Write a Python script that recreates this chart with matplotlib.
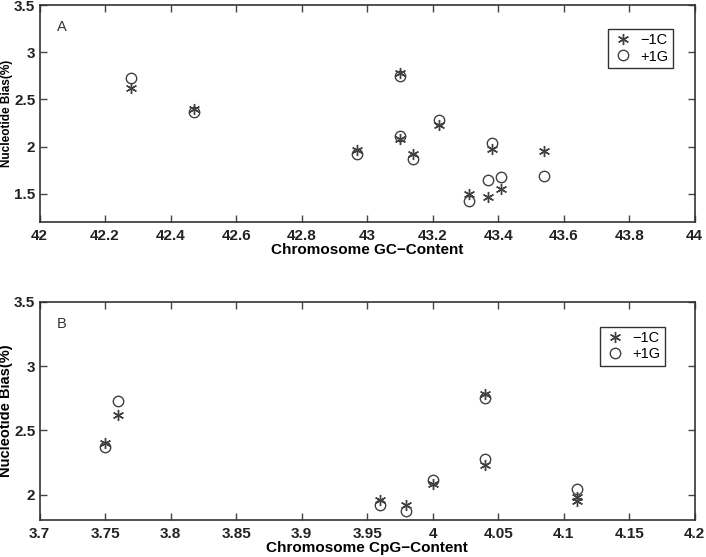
import matplotlib.pyplot as plt
from matplotlib.ticker import FormatStrFormatter, MultipleLocator

plt.rcParams['font.family'] = ['Liberation Sans', 'DejaVu Sans']

# panel A: chromosome GC content
gc = [42.28, 42.47, 42.97, 43.10, 43.10, 43.14, 43.22, 43.31, 43.37, 43.38, 43.41, 43.54]
gc_m1c = [2.62, 2.40, 1.96, 2.78, 2.08, 1.92, 2.23, 1.50, 1.47, 1.98, 1.55, 1.95]
gc_p1g = [2.73, 2.37, 1.92, 2.75, 2.11, 1.87, 2.28, 1.42, 1.65, 2.04, 1.68, 1.69]

# panel B: chromosome CpG content
cpg = [3.75, 3.76, 3.96, 3.98, 4.00, 4.04, 4.04, 4.11, 4.11]
cpg_m1c = [2.40, 2.62, 1.96, 1.92, 2.08, 2.78, 2.23, 1.98, 1.95]
cpg_p1g = [2.37, 2.73, 1.92, 1.87, 2.11, 2.75, 2.28, 2.04, 1.69]

col = '#404040'
star = (6, 2, 0)
fig = plt.figure(figsize=(7.06, 5.57), dpi=100)
axA = fig.add_axes([0.056, 0.601, 0.928, 0.390])
axB = fig.add_axes([0.056, 0.066, 0.928, 0.392])

def style(ax, x, m1c, p1g, xlim, ylim, xstep, xlabel, ylab_size, letter, leg_anchor):
    ax.plot(x, m1c, ls='none', marker=star, ms=8, mfc=col, mec=col, mew=1.0, label='\u22121C')
    ax.plot(x, p1g, ls='none', marker='o', ms=7.5, mfc='none', mec=col, mew=1.0, label='+1G')
    ax.set_xlim(*xlim)
    ax.set_ylim(*ylim)
    ax.xaxis.set_major_locator(MultipleLocator(xstep))
    ax.yaxis.set_major_locator(MultipleLocator(0.5))
    ax.xaxis.set_major_formatter(FormatStrFormatter('%g'))
    ax.yaxis.set_major_formatter(FormatStrFormatter('%g'))
    ax.tick_params(direction='in', top=True, right=True, length=5, width=1,
                   color='#444444', labelsize=11, labelcolor='#222222')
    ax.tick_params(axis='x', pad=5)
    ax.tick_params(axis='y', pad=3)
    for lab in ax.get_xticklabels() + ax.get_yticklabels():
        lab.set_fontweight('bold')
    for s in ax.spines.values():
        s.set_linewidth(1.2)
        s.set_color('#333333')
    ax.set_xlabel(xlabel, fontsize=11, fontweight='bold', labelpad=0)
    ax.set_ylabel('Nucleotide Bias(%)', fontsize=ylab_size, fontweight='bold')
    ax.yaxis.set_label_coords(-0.040, 0.5)
    ax.text(0.026, 0.88, letter, transform=ax.transAxes, fontsize=10.5, color='#333333')
    leg = ax.legend(loc='upper right', bbox_to_anchor=leg_anchor, frameon=True, fancybox=False,
                    edgecolor='black', fontsize=10.5, handletextpad=0.5, borderpad=0.3,
                    labelspacing=0.15, handlelength=1.4, borderaxespad=0)
    leg.get_frame().set_linewidth(1.0)

style(axA, gc, gc_m1c, gc_p1g, (42, 44), (1.2, 3.5), 0.2,
      'Chromosome GC\u2212Content', 8.5, 'A', ((673 - 39.5) / 655.5, (222 - 29) / 217))
style(axB, cpg, cpg_m1c, cpg_p1g, (3.7, 4.2), (1.8, 3.5), 0.05,
      'Chromosome CpG\u2212Content', 10.5, 'B', ((665 - 39.5) / 655.5, (520 - 327) / 218))

fig.savefig('out.png', dpi=100)
